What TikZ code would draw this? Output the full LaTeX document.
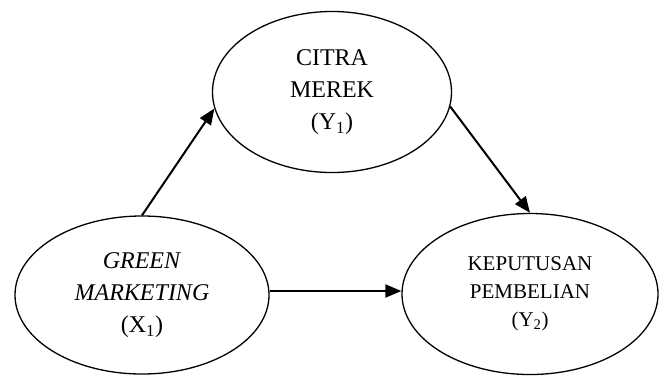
\documentclass[tikz,border=0pt]{standalone}
\usepackage{fontspec}
\setmainfont{Liberation Serif}
\usetikzlibrary{shapes.geometric,arrows.meta}
\begin{document}
\begin{tikzpicture}[x=1pt,y=-1pt,
  construct/.style={ellipse,draw,line width=1.3pt,inner sep=0pt,align=center},
  link/.style={line width=2pt,-{Triangle[length=16pt,width=13pt]}}]
\useasboundingbox (0,0) rectangle (663,376);
% constructs
\node[construct,minimum width=239pt,minimum height=161pt,
      font=\fontsize{24}{32}\selectfont] (cm) at (332,92)
  {CITRA\\MEREK\\(Y\textsubscript{1})};
\node[construct,minimum width=254pt,minimum height=158pt,
      font=\fontsize{24}{32}\selectfont] (gm) at (142,295)
  {\textit{GREEN}\\\textit{MARKETING}\\(X\textsubscript{1})};
\node[construct,minimum width=256pt,minimum height=161pt,
      font=\fontsize{21}{28}\selectfont] (kp) at (530,294)
  {KEPUTUSAN\\PEMBELIAN\\(Y\textsubscript{2})};
% paths
\draw[link] (gm.north) -- (cm.188);
\draw[link] (cm.-7) -- (kp.north);
\draw[link] ([yshift=4pt]gm.east) -- ([yshift=3pt]kp.west);
\end{tikzpicture}
\end{document}
